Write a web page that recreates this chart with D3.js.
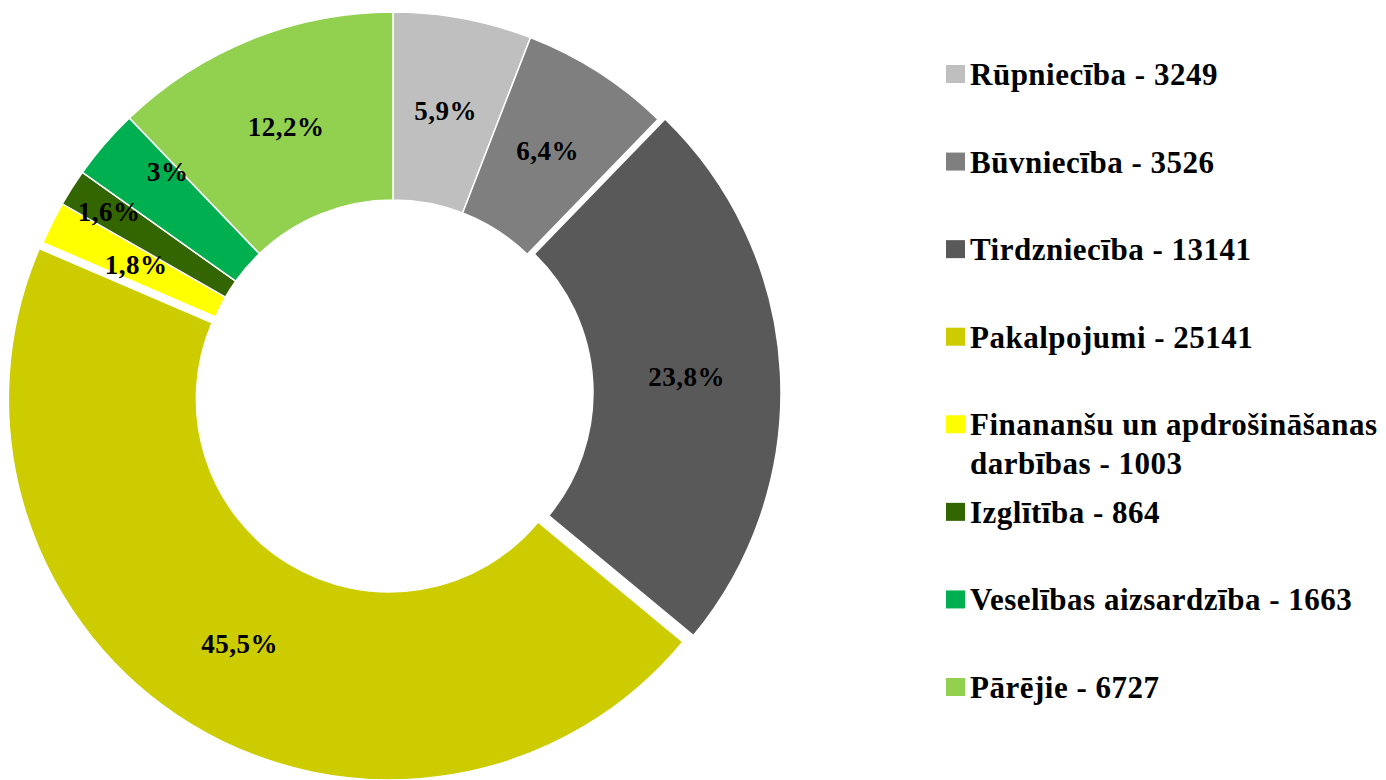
<!DOCTYPE html>
<html>
<head>
<meta charset="utf-8">
<script src="https://cdn.jsdelivr.net/npm/d3@7"></script>
<style>
  html, body { margin: 0; padding: 0; background: #fff; }
  svg { display: block; }
</style>
</head>
<body>
<svg id="chart" width="1386" height="780"></svg>
<script>
// ---- data ----
const categories = [
  "Rūpniecība",
  "Būvniecība",
  "Tirdzniecība",
  "Pakalpojumi",
  "Finananšu un apdrošināšanas darbības",
  "Izglītība",
  "Veselības aizsardzība",
  "Pārējie"
];
const values = [3249, 3526, 13141, 25141, 1003, 864, 1663, 6727];
const percentLabels = ["5,9%", "6,4%", "23,8%", "45,5%", "1,8%", "1,6%", "3%", "12,2%"];
const colors = ["#BFBFBF", "#7F7F7F", "#595959", "#CCCC00", "#FFFF00", "#336600", "#00B050", "#92D050"];

const FONT = "Liberation Serif";

// ---- layout ----
const cx = 393, cy = 393, outerR = 381, innerR = 193;
const explode = { "Tirdzniecība": 7, "Pakalpojumi": 7 };
const labelNudge = { "Izglītība": [-42, -26], "Veselības aizsardzība": [-8, -33] };

const svg = d3.select("#chart");
const g = svg.append("g").attr("transform", `translate(${cx},${cy})`);

const data = categories.map((c, i) => ({ name: c, value: values[i], label: percentLabels[i], color: colors[i] }));

const pie = d3.pie().value(d => d.value).sort(null);
const arc = d3.arc().innerRadius(innerR).outerRadius(outerR);
const labelArc = d3.arc().innerRadius((innerR + outerR) / 2).outerRadius((innerR + outerR) / 2);

const arcs = pie(data);

function offset(a) {
  const d = explode[a.data.name] || 0;
  const mid = (a.startAngle + a.endAngle) / 2;
  return [Math.sin(mid) * d, -Math.cos(mid) * d];
}

g.selectAll("path.slice")
  .data(arcs)
  .join("path")
  .attr("class", "slice")
  .attr("d", arc)
  .attr("transform", a => { const o = offset(a); return `translate(${o[0]},${o[1]})`; })
  .attr("fill", a => a.data.color)
  .attr("stroke", "#fff")
  .attr("stroke-width", 1.5);

g.selectAll("text.pct")
  .data(arcs)
  .join("text")
  .attr("class", "pct")
  .attr("text-anchor", "middle")
  .attr("font-family", FONT)
  .attr("font-weight", "bold")
  .attr("font-size", 27)
  .attr("letter-spacing", 0.5)
  .attr("fill", "#000")
  .attr("x", a => labelArc.centroid(a)[0] + offset(a)[0] + (labelNudge[a.data.name] || [0, 0])[0])
  .attr("y", a => labelArc.centroid(a)[1] + offset(a)[1] + (labelNudge[a.data.name] || [0, 0])[1] + 9)
  .text(a => a.data.label);

// ---- legend ----
const legendY = d3.scalePoint().domain(categories).range([85, 698]);
const legendX = 946, sw = 19, textX = 970, maxW = 1386 - textX - 1;

const items = svg.append("g").selectAll("g.item")
  .data(data)
  .join("g")
  .attr("class", "item");

items.append("rect")
  .attr("x", legendX)
  .attr("y", d => legendY(d.name) - 20)
  .attr("width", sw)
  .attr("height", sw - 1)
  .attr("fill", d => d.color);

items.each(function(d) {
  const t = d3.select(this).append("text")
    .attr("x", textX)
    .attr("y", legendY(d.name))
    .attr("font-family", FONT)
    .attr("font-weight", "bold")
    .attr("letter-spacing", 0.5)
    .attr("fill", "#000")
    .attr("font-size", 31);
  const words = (d.name + " - " + d.value).split(" ");
  let line = [];
  let tspan = t.append("tspan").attr("x", textX).attr("dy", 0);
  words.forEach(w => {
    line.push(w);
    tspan.text(line.join(" "));
    if (tspan.node().getComputedTextLength() > maxW && line.length > 1) {
      line.pop();
      tspan.text(line.join(" "));
      line = [w];
      tspan = t.append("tspan").attr("x", textX).attr("dy", 39).text(w);
    }
  });
});
</script>
</body>
</html>
